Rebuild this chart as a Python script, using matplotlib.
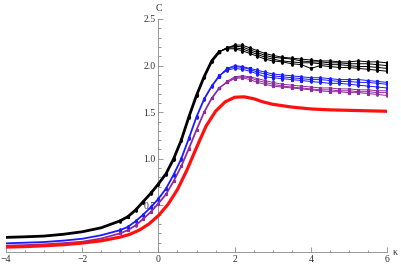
import numpy as np
import matplotlib
matplotlib.use('Agg')
import matplotlib.pyplot as plt
from matplotlib.ticker import MultipleLocator, FixedLocator

# kappa grids
kappa_low = [-4, -3.5, -3, -2.5, -2, -1.5, -1, -0.8, -0.6, -0.4, -0.2, 0, 0.2, 0.4, 0.6, 0.8, 1.0, 1.2, 1.4, 1.6]
kappa_high = [1.8, 2.0, 2.2, 2.4, 2.6, 2.8, 3.0, 3.25, 3.5, 3.75, 4.0, 4.25, 4.5, 4.75, 5.0, 5.25, 5.5, 5.75, 6.0]

# black data (all sizes coincide below the peak)
black_low = [0.157, 0.163, 0.171, 0.19, 0.217, 0.26, 0.335, 0.38, 0.45, 0.54, 0.63, 0.73, 0.84, 1.0, 1.2, 1.45, 1.68, 1.88, 2.05, 2.15]
black_high = [
    [2.19, 2.22, 2.22, 2.19, 2.16, 2.13, 2.11, 2.09, 2.08, 2.07, 2.06, 2.05, 2.05, 2.04, 2.04, 2.05, 2.04, 2.04, 2.03],
    [2.19, 2.21, 2.20, 2.17, 2.14, 2.11, 2.09, 2.08, 2.07, 2.05, 2.04, 2.04, 2.03, 2.03, 2.02, 2.02, 2.02, 2.01, 2.00],
    [2.19, 2.19, 2.18, 2.15, 2.12, 2.09, 2.07, 2.05, 2.04, 2.03, 2.03, 2.02, 2.01, 2.01, 2.00, 1.99, 1.99, 1.98, 1.97],
    [2.18, 2.18, 2.16, 2.13, 2.10, 2.07, 2.05, 2.04, 2.02, 2.01, 1.97, 2.00, 1.99, 1.98, 1.98, 1.97, 1.96, 1.95, 1.94],
]

blue_low = [0.093, 0.10, 0.107, 0.122, 0.142, 0.18, 0.235, 0.27, 0.33, 0.40, 0.48, 0.57, 0.68, 0.83, 1.0, 1.22, 1.45, 1.64, 1.78, 1.89]
blue_high = [
    [1.97, 2.00, 1.99, 1.97, 1.95, 1.93, 1.91, 1.90, 1.89, 1.88, 1.87, 1.87, 1.86, 1.85, 1.85, 1.85, 1.84, 1.83, 1.82],
    [1.96, 1.99, 1.98, 1.96, 1.93, 1.91, 1.89, 1.88, 1.87, 1.86, 1.85, 1.85, 1.84, 1.83, 1.83, 1.82, 1.82, 1.81, 1.80],
    [1.95, 1.97, 1.96, 1.94, 1.91, 1.88, 1.87, 1.86, 1.85, 1.84, 1.83, 1.82, 1.81, 1.81, 1.80, 1.79, 1.78, 1.77, 1.76],
]

purple_low = [0.068, 0.074, 0.082, 0.095, 0.11, 0.145, 0.20, 0.235, 0.285, 0.355, 0.43, 0.52, 0.62, 0.76, 0.92, 1.11, 1.31, 1.50, 1.65, 1.76]
purple_high = [
    [1.83, 1.88, 1.89, 1.88, 1.86, 1.84, 1.82, 1.80, 1.79, 1.78, 1.77, 1.76, 1.76, 1.75, 1.75, 1.74, 1.74, 1.73, 1.73],
    [1.82, 1.87, 1.88, 1.87, 1.84, 1.82, 1.80, 1.78, 1.77, 1.76, 1.75, 1.74, 1.74, 1.73, 1.73, 1.72, 1.72, 1.71, 1.71],
    [1.82, 1.86, 1.87, 1.85, 1.82, 1.80, 1.78, 1.77, 1.76, 1.75, 1.74, 1.73, 1.72, 1.72, 1.71, 1.71, 1.70, 1.69, 1.68],
]

# exact curve (red)
kappa_exact = [-4, -3.5, -3, -2.5, -2, -1.5, -1, -0.75, -0.5, -0.25, 0, 0.25, 0.5, 0.75, 1.0, 1.25, 1.5, 1.75,
               2.0, 2.25, 2.5, 2.75, 3.0, 3.5, 4.0, 4.5, 5.0, 5.5, 6.0]
c_exact = [0.053, 0.058, 0.067, 0.078, 0.096, 0.12, 0.16, 0.19, 0.235, 0.30, 0.39, 0.51, 0.67, 0.88, 1.12, 1.35,
           1.51, 1.61, 1.66, 1.665, 1.645, 1.61, 1.585, 1.555, 1.535, 1.525, 1.52, 1.515, 1.51]

y_ticks = [0.5, 1.0, 1.5, 2.0, 2.5]
x_ticks = [-4, -2, 0, 2, 4, 6]

plt.rcParams['font.family'] = ['Liberation Serif', 'DejaVu Serif']

fig = plt.figure(figsize=(4.01, 2.69), dpi=100)
ax = fig.add_axes([6 / 401, 17 / 269, 381 / 401, 233 / 269])

# markers only where the reference shows them separated
mark_from = kappa_low.index(-1)


def plot_group(low, highs, color, err, lw_low):
    # overlapping low-kappa part looks like one thicker line
    ax.plot(kappa_low, low, color=color, lw=lw_low, zorder=3, solid_capstyle='round')
    ax.errorbar(kappa_low[mark_from:], low[mark_from:], yerr=err, color=color, lw=0, marker='s', ms=1.3,
                elinewidth=0.5, capsize=0.8, capthick=0.5, zorder=3)
    for h in highs:
        k = kappa_low[-1:] + kappa_high
        c = low[-1:] + h
        ax.errorbar(k, c, yerr=err, color=color, lw=0.7, marker='s', ms=1.3,
                    elinewidth=0.5, capsize=0.8, capthick=0.5, zorder=3)


plot_group(black_low, black_high, 'black', 0.02, 2.0)
plot_group(blue_low, blue_high, '#1a1aff', 0.02, 1.3)
plot_group(purple_low, purple_high, '#8e2b9e', 0.012, 1.3)
ax.plot(kappa_exact, c_exact, color='#ff1010', lw=2.3, zorder=4, solid_capstyle='butt')

ax.set_xlim(-4, 6)
ax.set_ylim(0, 2.5)
ax.set_axisbelow(True)

for s in ['top', 'right']:
    ax.spines[s].set_visible(False)
ax.spines['left'].set_position(('data', 0))
ax.spines['left'].set_color('#888888')
ax.spines['bottom'].set_color('#888888')
ax.spines['left'].set_linewidth(0.6)
ax.spines['bottom'].set_linewidth(0.6)

ax.xaxis.set_major_locator(FixedLocator(x_ticks))
ax.xaxis.set_minor_locator(MultipleLocator(0.5))
ax.yaxis.set_major_locator(FixedLocator(y_ticks))
ax.yaxis.set_minor_locator(MultipleLocator(0.1))
ax.set_xticklabels(['\u22124', '\u22122', '0', '2', '4', '6'])
ax.set_yticklabels(['{:.1f}'.format(v) for v in y_ticks])

ax.tick_params(which='both', direction='in', color='#888888', width=0.6, labelsize=7, labelcolor='#333333')
ax.tick_params(which='major', length=3.5)
ax.tick_params(which='minor', length=1.8)
ax.tick_params(axis='x', pad=2)
ax.tick_params(axis='y', pad=2)

ax.text(0, 2.56, 'C', ha='center', va='bottom', fontsize=7, color='#333333', clip_on=False)
ax.text(6.15, -0.01, '\u03ba', ha='left', va='center', fontsize=7, color='#333333', clip_on=False)

fig.savefig('out.png', dpi=100)
